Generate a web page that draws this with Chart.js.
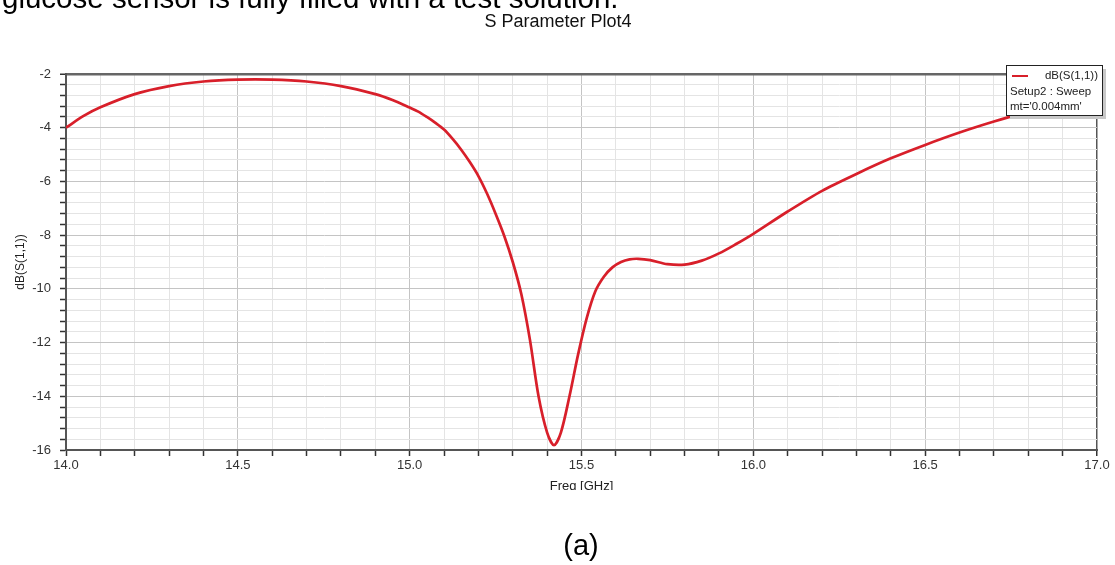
<!DOCTYPE html>
<html>
<head>
<meta charset="utf-8">
<script src="https://cdn.jsdelivr.net/npm/chart.js@4.4.0/dist/chart.umd.min.js"></script>
<style>
  html, body { margin: 0; padding: 0; background: #fff; }
  #wrap { position: absolute; left: 0; top: 0; width: 1115px; height: 565px; }
</style>
</head>
<body>
<div id="wrap"><canvas id="plot" width="1115" height="565"></canvas></div>
<script>
// Frequency points (GHz) and dB(S(1,1))
const freqs = [14.0, 14.05, 14.1, 14.2, 14.3, 14.4, 14.5, 14.6, 14.7, 14.8, 14.9, 14.95,
    15.0, 15.025, 15.05, 15.075, 15.1, 15.125, 15.15, 15.175, 15.2, 15.225, 15.25, 15.275,
    15.3, 15.325, 15.35, 15.375, 15.4, 15.42, 15.44, 15.465, 15.49, 15.515, 15.54, 15.565,
    15.59, 15.615, 15.64, 15.665, 15.7, 15.75, 15.8, 15.85, 15.9, 15.95, 16.0, 16.1, 16.2,
    16.3, 16.4, 16.5, 16.6, 16.7, 16.8, 16.9, 17.0];
const s11 = [-4.0, -3.57, -3.24, -2.75, -2.45, -2.28, -2.21, -2.21, -2.28, -2.45, -2.75, -2.97,
    -3.25, -3.4, -3.6, -3.82, -4.07, -4.42, -4.82, -5.28, -5.8, -6.45, -7.2, -8.02,
    -9.0, -10.2, -11.9, -14.0, -15.35, -15.82, -15.35, -14.0, -12.45, -11.1, -10.1, -9.55,
    -9.2, -9.0, -8.9, -8.88, -8.93, -9.08, -9.1, -8.95, -8.68, -8.33, -7.95, -7.12, -6.35,
    -5.72, -5.14, -4.64, -4.18, -3.77, -3.4, -3.06, -2.75];

const xMin = 14, xMax = 17, xStep = 0.1, xMajor = 0.5;
const yMin = -16, yMax = -2, yStep = 0.4, yMajor = 2;
const legendLines = ['dB(S(1,1))', 'Setup2 : Sweep', "mt='0.004mm'"];

const FONT = 'Arial, "Liberation Sans", sans-serif';
const RED = '#d81f2a';

function isMult(v, m) {
    const r = v / m;
    return Math.abs(r - Math.round(r)) < 1e-6;
}

// Extra texts, legend box and the clipped bottom of the figure
const extras = {
    id: 'extras',
    afterDraw(chart) {
        const ctx = chart.ctx;
        ctx.save();
        // figure is cut just under the x title
        ctx.fillStyle = '#fff';
        ctx.fillRect(0, 490, chart.width, chart.height - 490);

        ctx.fillStyle = '#000';
        ctx.textBaseline = 'alphabetic';
        ctx.textAlign = 'left';
        ctx.font = '29.5px ' + FONT;
        ctx.fillText('glucose sensor is fully filled with a test solution.', 2, 8);

        ctx.textAlign = 'center';
        ctx.fillStyle = '#111';
        ctx.font = '18px ' + FONT;
        ctx.fillText('S Parameter Plot4', 558, 27);

        ctx.fillStyle = '#000';
        ctx.font = '29px ' + FONT;
        ctx.fillText('(a)', 581, 555);

        // legend box
        const bx = 1006, by = 65, bw = 96, bh = 50;
        ctx.fillStyle = '#c8c8c8';
        ctx.fillRect(bx + 4, by + 4, bw, bh);
        ctx.fillStyle = '#fff';
        ctx.fillRect(bx, by, bw, bh);
        ctx.strokeStyle = '#222';
        ctx.lineWidth = 1;
        ctx.strokeRect(bx + 0.5, by + 0.5, bw, bh);
        ctx.strokeStyle = RED;
        ctx.lineWidth = 2;
        ctx.beginPath();
        ctx.moveTo(bx + 6, by + 11);
        ctx.lineTo(bx + 22, by + 11);
        ctx.stroke();
        ctx.fillStyle = '#222';
        ctx.font = '11.5px ' + FONT;
        ctx.textAlign = 'right';
        ctx.textBaseline = 'middle';
        ctx.fillText(legendLines[0], bx + bw - 4, by + 11);
        ctx.textAlign = 'left';
        ctx.fillText(legendLines[1], bx + 4, by + 27);
        ctx.fillText(legendLines[2], bx + 4, by + 42);
        ctx.restore();
    }
};

new Chart(document.getElementById('plot'), {
    type: 'line',
    data: {
        datasets: [{
            label: legendLines[0],
            data: freqs.map((f, i) => ({ x: f, y: s11[i] })),
            borderColor: RED,
            borderWidth: 2.7,
            pointRadius: 0,
            tension: 0.3,
            fill: false
        }]
    },
    options: {
        responsive: false,
        animation: false,
        devicePixelRatio: 1,
        layout: { padding: { left: 0, right: 18, top: 74, bottom: 65 } },
        plugins: {
            legend: { display: false },
            tooltip: { enabled: false }
        },
        scales: {
            x: {
                type: 'linear',
                min: xMin,
                max: xMax,
                afterFit: s => { s.height = 50; },
                ticks: {
                    stepSize: xStep,
                    autoSkip: false,
                    maxRotation: 0,
                    padding: 2,
                    color: '#333',
                    font: { family: FONT, size: 13 },
                    callback: v => isMult(v, xMajor) ? v.toFixed(1) : ''
                },
                grid: {
                    color: c => {
                        const v = c.tick.value;
                        if (Math.abs(v - xMax) < 1e-6) return '#555';
                        return isMult(v, xMajor) ? '#c4c4c4' : '#e4e4e4';
                    },
                    lineWidth: c => Math.abs(c.tick.value - xMax) < 1e-6 ? 1.5 : 1,
                    tickColor: '#333',
                    tickLength: 6,
                    tickWidth: 1.5
                },
                border: { color: '#555', width: 2 },
                title: {
                    display: true,
                    text: 'Freq [GHz]',
                    color: '#222',
                    font: { family: FONT, size: 13 },
                    padding: { top: 0, bottom: 6 }
                }
            },
            y: {
                min: yMin,
                max: yMax,
                afterFit: s => { s.width = 66; },
                ticks: {
                    stepSize: yStep,
                    autoSkip: false,
                    padding: 9,
                    color: '#333',
                    font: { family: FONT, size: 13 },
                    callback: v => isMult(v, yMajor) ? String(Math.round(v)) : ''
                },
                grid: {
                    color: c => {
                        const v = c.tick.value;
                        if (Math.abs(v - yMax) < 1e-6) return '#666';
                        return isMult(v, yMajor) ? '#c4c4c4' : '#e4e4e4';
                    },
                    lineWidth: c => Math.abs(c.tick.value - yMax) < 1e-6 ? 2.5 : 1,
                    tickColor: '#333',
                    tickLength: 6,
                    tickWidth: 1.5
                },
                border: { color: '#555', width: 2 },
                title: {
                    display: true,
                    text: 'dB(S(1,1))',
                    color: '#222',
                    font: { family: FONT, size: 12 },
                    padding: { top: 13, bottom: 0 }
                }
            }
        }
    },
    plugins: [extras]
});
</script>
</body>
</html>
